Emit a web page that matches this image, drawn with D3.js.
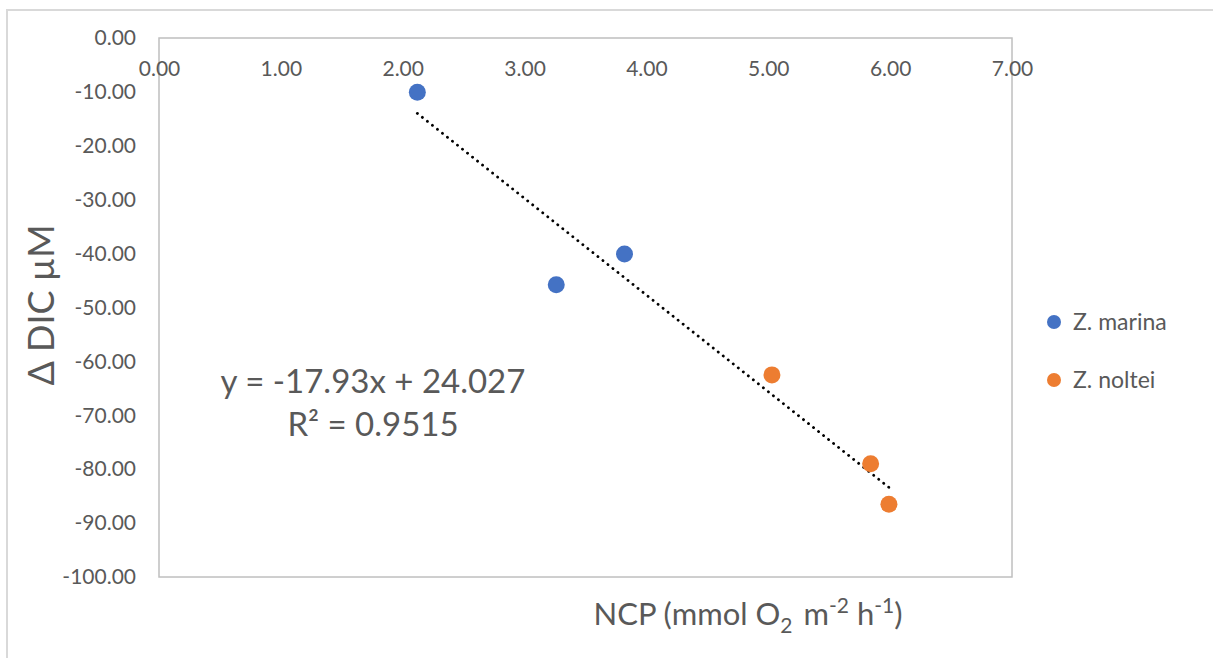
<!DOCTYPE html>
<html><head><meta charset="utf-8">
<script src="https://cdn.jsdelivr.net/npm/d3@7"></script>
<style>body{margin:0;background:#fff;font-family:Lato,sans-serif;}</style>
</head><body><svg id="c" width="1213" height="658"></svg>
<script>
const seriesNames = ["Z. marina", "Z. noltei"];
const seriesColors = ["#4472C4", "#ED7D31"];
const marinaX = [2.12, 3.26, 3.82];
const marinaY = [-10.07, -45.8, -40.07];
const nolteiX = [5.03, 5.84, 5.99];
const nolteiY = [-62.5, -79.0, -86.5];
const xTicks = [0,1,2,3,4,5,6,7];
const yTicks = [0,-10,-20,-30,-40,-50,-60,-70,-80,-90,-100];
const slope = -17.93, intercept = 24.027, r2 = 0.9515;

const FONT = "Lato, sans-serif";
const TXT = "#595959";
const svg = d3.select("#c").attr("font-family", FONT);
// outer chart border
svg.append("path").attr("d","M7,658 V10 H1213").attr("fill","none").attr("stroke","#d9d9d9").attr("stroke-width",2);

const x = d3.scaleLinear().domain([0,7]).range([159,1012]);
const y = d3.scaleLinear().domain([-100,0]).range([577,38]);
const fmt = v => d3.format(".2f")(v).replace("−","-");

// plot frame
svg.append("rect").attr("x",x(0)).attr("y",y(0)).attr("width",x(7)-x(0)).attr("height",y(-100)-y(0))
  .attr("fill","none").attr("stroke","#bfbfbf").attr("stroke-width",1.5);

// y labels
const yAx = svg.append("g").attr("transform",`translate(${x(0)},0)`)
  .call(d3.axisLeft(y).tickValues(yTicks).tickFormat(fmt).tickSize(0).tickPadding(23));
yAx.attr("font-family",FONT).attr("font-size",21);
yAx.select(".domain").remove();
yAx.selectAll("text").attr("fill",TXT);

// x labels (axis at y=0 line)
const xAx = svg.append("g").attr("transform",`translate(0,${y(0)})`)
  .call(d3.axisBottom(x).tickValues(xTicks).tickFormat(fmt).tickSize(0).tickPadding(23));
xAx.attr("font-family",FONT).attr("font-size",21);
xAx.select(".domain").remove();
xAx.selectAll("text").attr("fill",TXT);

// trendline
const allX = marinaX.concat(nolteiX);
const xmin = d3.min(allX), xmax = d3.max(allX);
const tl = [xmin, xmax].map(v=>[x(v), y(slope*v+intercept)]);
svg.append("path").attr("d", d3.line()(tl)).attr("fill","none").attr("stroke","#000")
  .attr("stroke-width",2.8).attr("stroke-linecap","round").attr("stroke-dasharray","0.1 6.3");

// points
const series = [[marinaX,marinaY],[nolteiX,nolteiY]];
series.forEach((s,i)=>{
  svg.append("g").selectAll("circle").data(s[0].map((v,j)=>[v,s[1][j]])).join("circle")
    .attr("cx",d=>x(d[0])).attr("cy",d=>y(d[1])).attr("r",8.5).attr("fill",seriesColors[i]);
});

// equation
svg.append("text").attr("x",373).attr("y",393).attr("text-anchor","middle")
  .attr("font-size",33).attr("fill",TXT).text(`y = ${slope}x + ${intercept}`.replace("−","-"));
svg.append("text").attr("x",373).attr("y",436).attr("text-anchor","middle")
  .attr("font-size",33).attr("fill",TXT).text(`R² = ${r2}`);

// axis titles
svg.append("text").attr("transform","translate(54,305) rotate(-90)").attr("text-anchor","middle")
  .attr("font-size",36).attr("fill",TXT).text("Δ DIC µM");

const xt = svg.append("text").attr("x",748).attr("y",625).attr("text-anchor","middle")
  .attr("font-size",31).attr("fill",TXT);
xt.append("tspan").text("NCP (mmol O");
xt.append("tspan").attr("font-size",21).attr("dy",8).text("2");
xt.append("tspan").attr("dy",-8).attr("dx",11).text("m");
xt.append("tspan").attr("font-size",21).attr("dy",-12).text("-2");
xt.append("tspan").attr("dy",12).text(" h");
xt.append("tspan").attr("font-size",21).attr("dy",-12).text("-1");
xt.append("tspan").attr("dy",12).text(")");

// legend
seriesNames.forEach((n,i)=>{
  const ly = 322 + i*58;
  svg.append("circle").attr("cx",1054).attr("cy",ly).attr("r",7).attr("fill",seriesColors[i]);
  svg.append("text").attr("x",1073).attr("y",ly+8).attr("font-size",23).attr("fill",TXT).text(n);
});
</script></body></html>
